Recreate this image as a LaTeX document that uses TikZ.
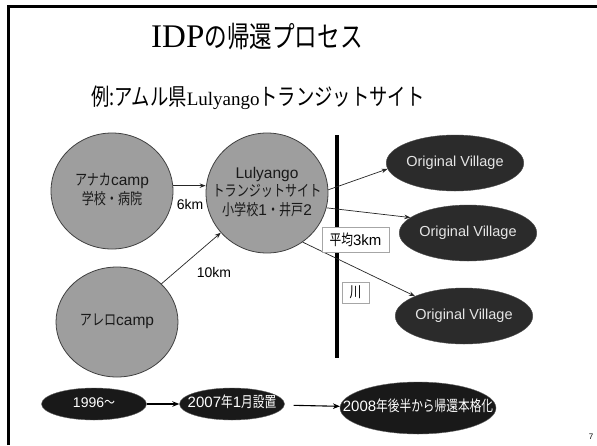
\documentclass[tikz,border=0pt]{standalone}
\usepackage{fontspec}
\usepackage{graphicx}
\setmainfont{Liberation Sans}
\newfontfamily\ser{Liberation Serif}
\newfontfamily\jp[FakeStretch=0.78]{Noto Sans CJK JP}
\usetikzlibrary{shapes.geometric,arrows.meta}
\newcommand\zw[1]{\makebox[0pt]{\begin{tabular}{@{}c@{}}#1\end{tabular}}}
\begin{document}
\begin{tikzpicture}[x=1pt,y=-1pt,
  camp/.style={ellipse, draw=black!75, fill=black!38, line width=0.8pt, inner sep=0pt,
     text=black!90, font=\fontsize{15.5}{18.5}\selectfont},
  village/.style={ellipse, draw=black!70, fill=black!83, inner sep=0pt,
     minimum width=124pt, minimum height=56pt, text=white!90!black,
     font=\fontsize{14.5}{16}\selectfont},
  tl/.style={ellipse, draw=black!60, fill=black!90, inner sep=0pt, text=white},
  lbl/.style={draw=black!35, fill=white, inner sep=0pt, line width=0.6pt,
     font=\fontsize{15}{17}\selectfont},
  dist/.style={inner sep=0pt, font=\fontsize{14}{16}\selectfont},
  arr/.style={-{Stealth[length=6pt,width=4.5pt]}, line width=0.7pt, draw=black!85},
  tarr/.style={-{Stealth[length=7pt,width=5.5pt]}, line width=1.1pt}
]
\useasboundingbox (0,0) rectangle (597,445);
\fill[white] (0,0) rectangle (597,445);
\draw[line width=3pt] (8.5,445) |- (597,6.5);

% titles
\node[anchor=base, inner sep=0pt, font=\fontsize{33}{36}\selectfont] (title) at (257,47)
  {{\ser IDP}{\jp\fontsize{29}{36}\selectfont の帰還プロセス}};
\node[anchor=base, inner sep=0pt, font=\fontsize{23.5}{26}\selectfont] (sub) at (258,105)
  {{\jp 例:アムル県}{\ser\fontsize{19}{24}\selectfont Lulyango}{\jp トランジットサイト}};

% river
\draw[line width=4pt] (337,135) coordinate (rtop) -- (337,358) coordinate (rbot);

% camps
\node[camp, minimum width=122pt, minimum height=116pt] (anaka) at (112,191)
  {\zw{{\jp アナカ}camp\\{\jp 学校・病院}}};
\node[camp, minimum width=122pt, minimum height=120pt] (luly) at (267,193)
  {\zw{Lulyango\\{\jp トランジットサイト}\\{\jp 小学校}1{\jp ・井戸}2}};
\node[camp, minimum width=122pt, minimum height=110pt] (alero) at (117,322)
  {\zw{{\jp アレロ}camp}};

% villages
\node[village] (ov1) at (455,163) {Original Village};
\node[village] (ov2) at (468,233) {Original Village};
\node[village, minimum width=122pt] (ov3) at (464,316) {Original Village};

% connectors
\draw[arr] (anaka.5) -- (anaka.5 -| luly.west);
\draw[arr] (alero) -- (luly);
\draw[arr] (luly.3) -- (ov1.185);
\draw[arr] (luly.-14) -- (ov2.165);
\draw[arr] (luly.-54) -- (ov3.158);

\node[dist] (d6) at (190,204) {6km};
\node[dist] (d10) at (214,272) {10km};

\node[lbl, minimum width=67pt, minimum height=25pt] (avg) at (355.5,239.5) {{\jp 平均}3km};
\node[lbl, minimum width=27pt, minimum height=21pt] (kawa) at (355.5,292.5) {{\jp 川}};

% timeline
\node[tl, minimum width=105pt, minimum height=32pt, font=\fontsize{14}{16}\selectfont] (t1) at (94,404)
  {\zw{1996{\jp ～}}};
\node[tl, minimum width=105pt, minimum height=32pt, font=\fontsize{15}{17}\selectfont] (t2) at (232,404)
  {\zw{2007{\jp 年}1{\jp 月設置}}};
\node[tl, minimum width=156pt, minimum height=52pt, font=\fontsize{15}{18}\selectfont] (t3) at (418,408)
  {\zw{2008{\jp 年後半から帰還本格化}}};
\draw[tarr] (t1) -- (t2);
\draw[tarr, shorten <=9pt] (t2) -- (t3);

\node[inner sep=0pt, font=\fontsize{8}{9}\selectfont] (pg) at (591,437) {7};
\end{tikzpicture}
\end{document}
